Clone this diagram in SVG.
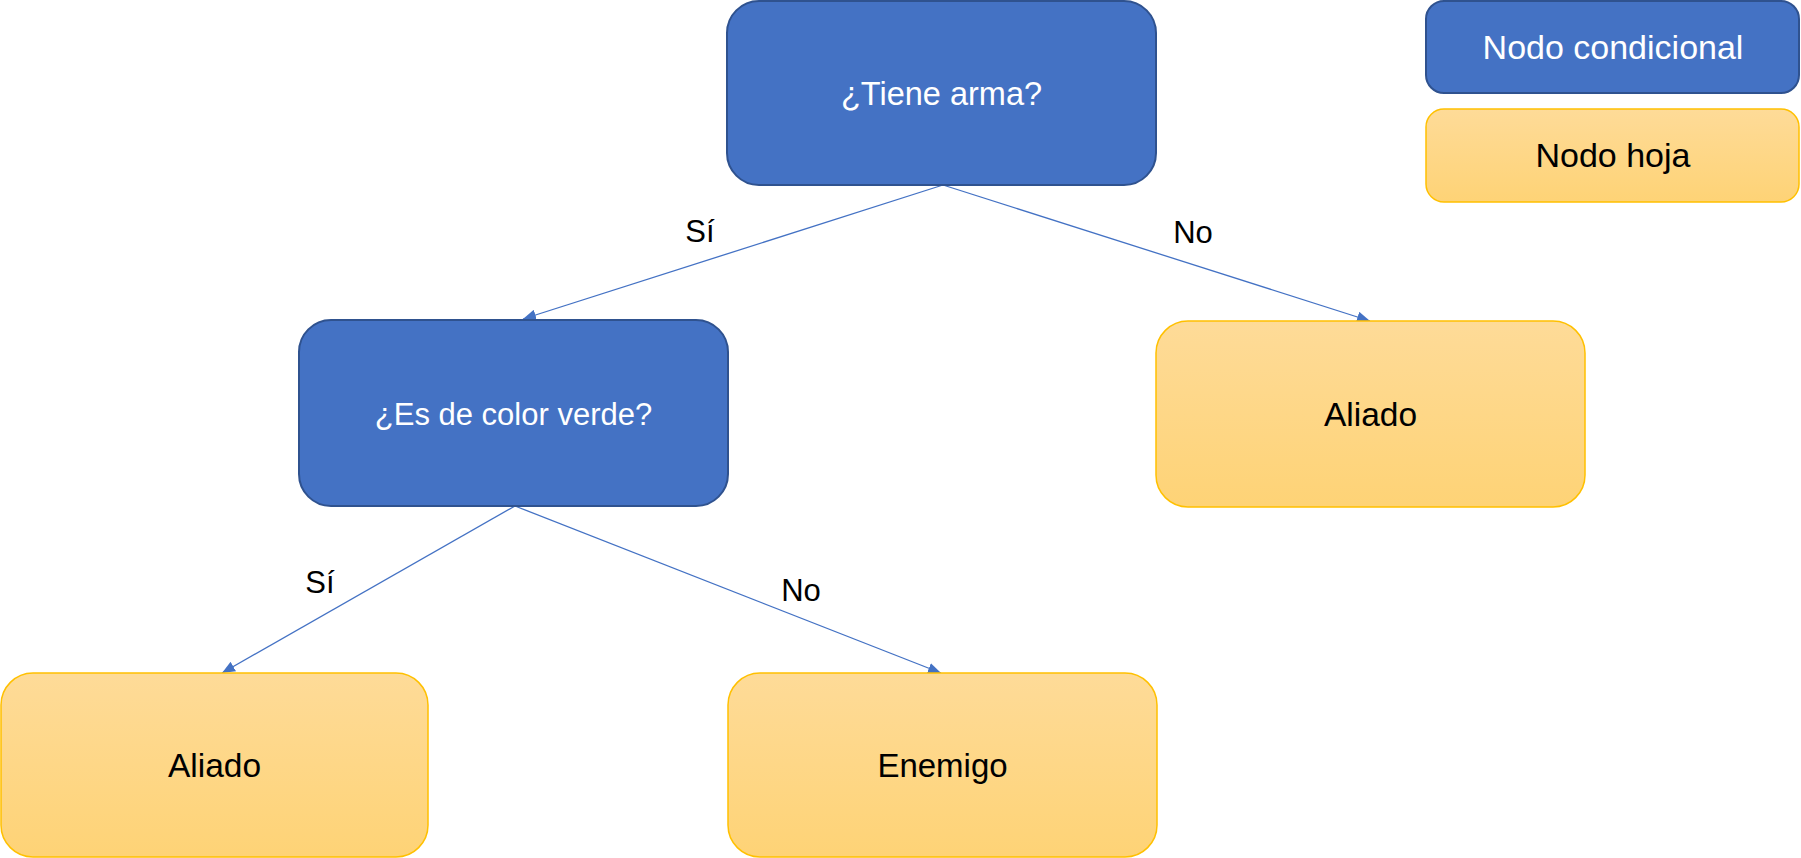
<svg xmlns="http://www.w3.org/2000/svg" width="1801" height="858" viewBox="0 0 1801 858">
<style>
.cond{fill:#4472C4;stroke:#2F528F;stroke-width:2}
.leaf{fill:url(#leafGrad);stroke:#FFC000;stroke-width:1.5}
.wt{fill:#FFFFFF;font-family:"Liberation Sans",Arial,sans-serif;text-anchor:middle}
.bt{fill:#000000;font-family:"Liberation Sans",Arial,sans-serif;text-anchor:middle}
.edge{stroke:#4472C4;stroke-width:1.3;fill:none;marker-end:url(#arrow)}
.lbl{fill:#000000;font-family:"Liberation Sans",Arial,sans-serif;font-size:31px;text-anchor:middle}
</style>
<defs>
<linearGradient id="leafGrad" x1="0" y1="0" x2="0" y2="1">
<stop offset="0" stop-color="#FEDB98"/>
<stop offset="1" stop-color="#FED376"/>
</linearGradient>
<marker id="arrow" markerUnits="userSpaceOnUse" markerWidth="13" markerHeight="11" refX="13" refY="5.5" orient="auto" viewBox="0 0 13 11">
<path d="M0,0 L13,5.5 L0,11 z" fill="#4472C4"/>
</marker>
</defs>
<rect width="1801" height="858" fill="#FFFFFF"/>
<g id="connectors">
<line class="edge" x1="943" y1="185" x2="523" y2="319"/>
<line class="edge" x1="943" y1="185" x2="1370" y2="321"/>
<line class="edge" x1="515" y1="506" x2="222" y2="673"/>
<line class="edge" x1="515" y1="506" x2="941" y2="673"/>
<text class="lbl" x="700" y="242">Sí</text>
<text class="lbl" x="1193" y="243">No</text>
<text class="lbl" x="320" y="593">Sí</text>
<text class="lbl" x="801" y="601">No</text>
</g>
<g id="node-tiene-arma">
<rect class="cond" x="727" y="1" width="429" height="184" rx="32" ry="32"/>
<text class="wt" x="941.5" y="105" font-size="32.5">¿Tiene arma?</text>
</g>
<g id="node-color-verde">
<rect class="cond" x="299" y="320" width="429" height="186" rx="32" ry="32"/>
<text class="wt" x="513.5" y="425" font-size="31">¿Es de color verde?</text>
</g>
<g id="node-aliado-right">
<rect class="leaf" x="1156" y="321" width="429" height="186" rx="32" ry="32"/>
<text class="bt" x="1370.5" y="426" font-size="33.5">Aliado</text>
</g>
<g id="node-aliado-left">
<rect class="leaf" x="1" y="673" width="427" height="184" rx="32" ry="32"/>
<text class="bt" x="214.5" y="777" font-size="33.5">Aliado</text>
</g>
<g id="node-enemigo">
<rect class="leaf" x="728" y="673" width="429" height="184" rx="32" ry="32"/>
<text class="bt" x="942.5" y="777" font-size="33">Enemigo</text>
</g>
<g id="legend-condicional">
<rect class="cond" x="1426" y="1" width="373" height="92" rx="18" ry="18"/>
<text class="wt" x="1613" y="59" font-size="34">Nodo condicional</text>
</g>
<g id="legend-hoja">
<rect class="leaf" x="1426" y="109" width="373" height="93" rx="18" ry="18"/>
<text class="bt" x="1613" y="167" font-size="34">Nodo hoja</text>
</g>
</svg>
